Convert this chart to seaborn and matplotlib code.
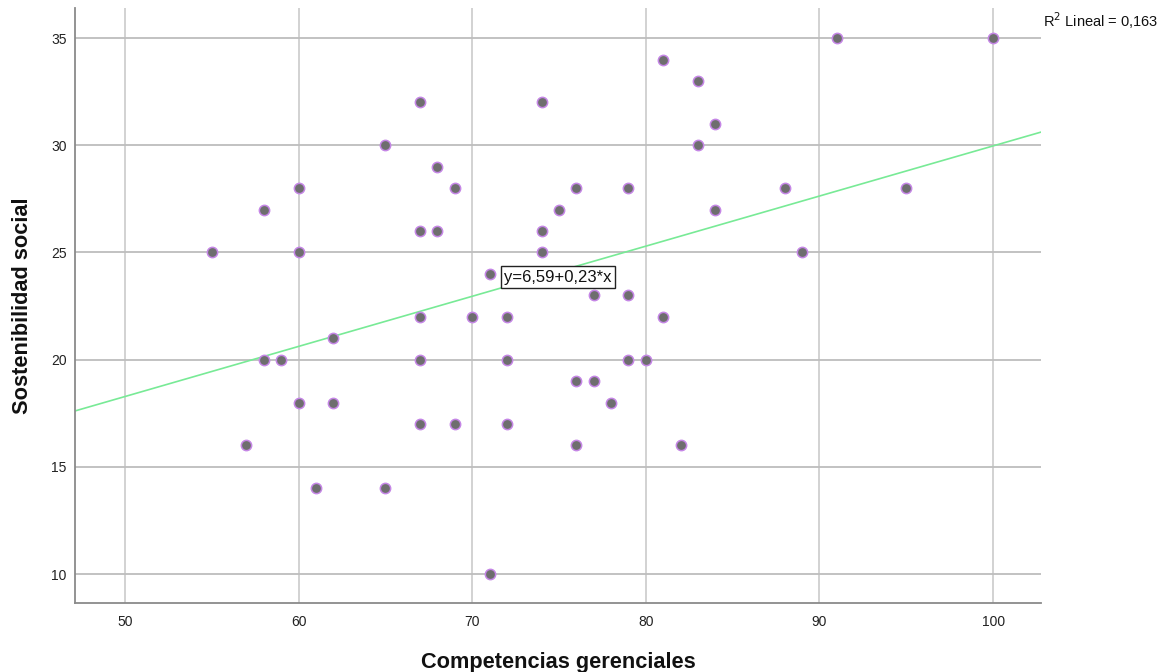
import numpy as np
import pandas as pd
import matplotlib
matplotlib.use("Agg")
import matplotlib.pyplot as plt
import seaborn as sns

# Observed scores
competencias = [55, 57, 58, 58, 59, 60, 60, 60, 61, 62, 62, 65, 65, 67, 67, 67, 67, 67,
                68, 68, 69, 69, 70, 71, 71, 72, 72, 72, 74, 74, 74, 75, 76, 76, 76, 77,
                77, 78, 79, 79, 79, 80, 81, 81, 82, 83, 83, 84, 84, 88, 89, 91, 95, 100]
sostenibilidad = [25, 16, 27, 20, 20, 28, 25, 18, 14, 21, 18, 30, 14, 32, 26, 22, 20, 17,
                  29, 26, 28, 17, 22, 24, 10, 22, 20, 17, 32, 26, 25, 27, 28, 19, 16, 23,
                  19, 18, 28, 23, 20, 20, 34, 22, 16, 33, 30, 31, 27, 28, 25, 35, 28, 35]

# Fitted linear model
intercepto = 6.59
pendiente = 0.2338
r2 = 0.163

x_ticks = [50, 60, 70, 80, 90, 100]
y_ticks = [10, 15, 20, 25, 30, 35]
x_lim = (47.12, 102.76)
y_lim = (8.65, 36.4)

df = pd.DataFrame({"Competencias gerenciales": competencias,
                   "Sostenibilidad social": sostenibilidad})

sns.set_style("white")
plt.rcParams["font.family"] = ["Liberation Sans", "DejaVu Sans"]

fig = plt.figure(figsize=(11.62, 6.72), dpi=100)
ax = fig.add_axes([0.0645, 0.1027, 0.8314, 0.8853])

ax.set_xlim(*x_lim)
ax.set_ylim(*y_lim)
ax.set_xticks(x_ticks)
ax.set_yticks(y_ticks)
ax.set_axisbelow(True)
for v in x_ticks:
    ax.axvline(v, color="#cfcfcf", lw=1.3, zorder=0)
for v in y_ticks:
    ax.axhline(v, color="#bdbdbd", lw=1.3, zorder=0)

# Regression line over the full x range
xl = np.array(x_lim)
linea = pd.DataFrame({"x": xl, "y": intercepto + pendiente * xl})
sns.lineplot(data=linea, x="x", y="y", ax=ax, color="#78ea96", lw=1.2, zorder=2)

sns.scatterplot(data=df, x="Competencias gerenciales", y="Sostenibilidad social",
                ax=ax, s=55, color="#6e6e6e", edgecolor="#c586e6", linewidth=1.1,
                zorder=3)

ax.text(71.85, 23.85, f"y={intercepto:.2f}+{pendiente:.2f}*x".replace(".", ","),
        fontsize=12, color="#111111", va="center", ha="left", zorder=5,
        bbox=dict(boxstyle="square,pad=0.2", fc="white", ec="#222222", lw=1))

fig.text(0.8975, 0.970, f"R$^2$ Lineal = {r2:.3f}".replace(".", ","),
         fontsize=10.5, color="#111111", ha="left", va="center")

for s in ["top", "right"]:
    ax.spines[s].set_visible(False)
for s in ["left", "bottom"]:
    ax.spines[s].set_color("#8a8a8a")
    ax.spines[s].set_linewidth(1.3)

ax.tick_params(axis="x", length=0, labelsize=10, colors="#222222", pad=9)
ax.tick_params(axis="y", length=0, labelsize=10, colors="#222222", pad=6)
ax.set_xlabel("Competencias gerenciales", fontsize=15.7, fontweight="bold",
              labelpad=16, color="#111111")
ax.set_ylabel("Sostenibilidad social", fontsize=15.7, fontweight="bold",
              labelpad=13, color="#111111")

fig.savefig("out.png", dpi=100)
